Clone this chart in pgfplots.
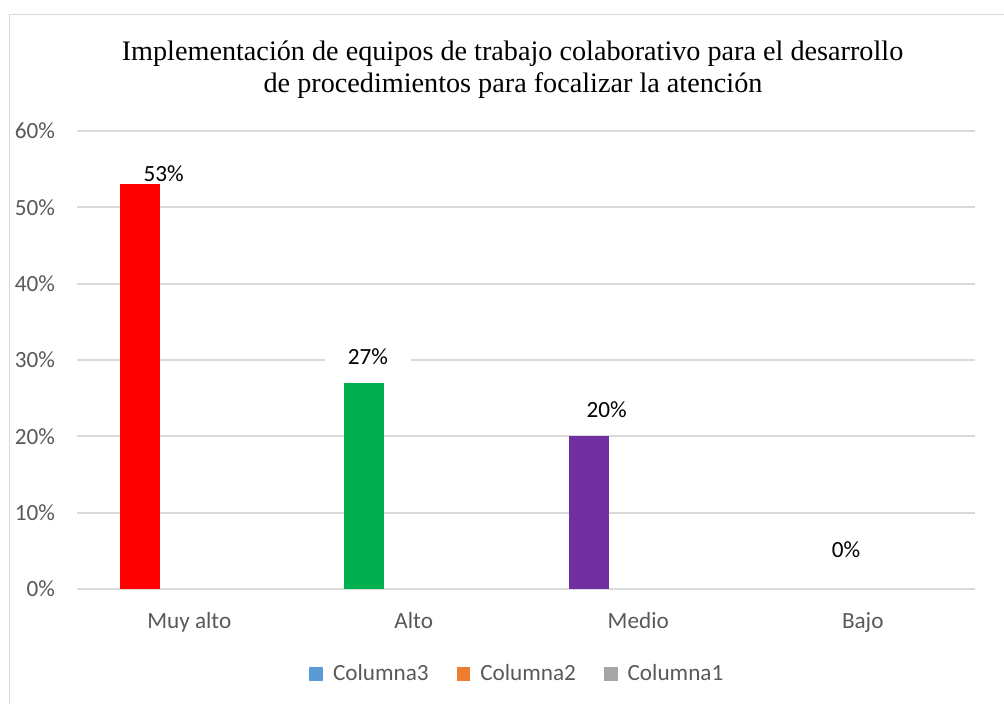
\documentclass[border=0pt]{standalone}
\usepackage{fontspec}
\setmainfont{Carlito}
\newfontfamily\titlefont{Liberation Serif}
\usepackage{pgfplots}
\pgfplotsset{compat=1.18}

\definecolor{gridgray}{HTML}{D9D9D9}
\definecolor{ticktext}{HTML}{595959}
\definecolor{barred}{HTML}{FF0000}
\definecolor{bargreen}{HTML}{00B050}
\definecolor{barpurple}{HTML}{7030A0}
\definecolor{colthree}{HTML}{5B9BD5}
\definecolor{coltwo}{HTML}{ED7D31}
\definecolor{colone}{HTML}{A5A5A5}

\begin{document}
\begin{tikzpicture}[x=1pt,y=1pt]
% chart frame (runs past the right and bottom edges of the picture)
\draw[gridgray, line width=0.8pt] (4.75,-20) rectangle (520,344.75);

% title
\node[font=\titlefont\fontsize{14.1}{16}\selectfont, anchor=base] at (256.25,321.5)
  {Implementación de equipos de trabajo colaborativo para el desarrollo};
\node[font=\titlefont\fontsize{14.1}{16}\selectfont, anchor=base] at (256.5,305.5)
  {de procedimientos para focalizar la atención};

\begin{axis}[
    at={(38.5pt,57.5pt)}, anchor=south west,
    scale only axis,
    width=449pt, height=229pt,
    xmin=-0.5, xmax=3.5,
    ymin=0, ymax=60,
    clip=false,
    axis line style={draw=none},
    major tick length=0pt,
    ytick={0,10,20,30,40,50,60},
    yticklabel={\pgfmathprintnumber{\tick}\%},
    xtick={0,1,2,3},
    xticklabels={Muy alto,Alto,Medio,Bajo},
    ymajorgrids,
    grid style={gridgray, line width=0.9pt},
    tick label style={font=\fontsize{11.6}{13}\selectfont, text=ticktext},
    /pgf/number format/assume math mode=true,
    yticklabel style={xshift=-7.5pt},
    xticklabel style={yshift=-8pt},
    legend style={
        at={(0.4915,-0.1856)}, anchor=center,
        draw=none, fill=none,
        legend columns=3,
        font=\fontsize{11.6}{13}\selectfont,
        text=ticktext,
        /tikz/every odd column/.append style={column sep=3pt},
        /tikz/every even column/.append style={column sep=12pt},
    },
    legend image code/.code={\fill[#1, draw=none] (0pt,-3.4pt) rectangle (6.8pt,3.4pt);},
]
    % Columna3, coloured by category (Bajo = 0)
    \addplot[ybar, bar width=20pt, bar shift=-24.75pt, fill=barred, draw=none, forget plot]
        coordinates {(0,53)};
    \addplot[ybar, bar width=20pt, bar shift=-24.75pt, fill=bargreen, draw=none, forget plot]
        coordinates {(1,27)};
    \addplot[ybar, bar width=20pt, bar shift=-24.75pt, fill=barpurple, draw=none, forget plot]
        coordinates {(2,20)};

    \addlegendimage{fill=colthree, draw=none}
    \addlegendentry{Columna3}
    \addlegendimage{fill=coltwo, draw=none}
    \addlegendentry{Columna2}
    \addlegendimage{fill=colone, draw=none}
    \addlegendentry{Columna1}

    % data labels
    \node[font=\fontsize{11.6}{13}\selectfont] at (axis cs:-0.114,54.4) {53\%};
    \node[font=\fontsize{11.6}{13}\selectfont, fill=white, inner xsep=11.5pt, inner ysep=1pt] at (axis cs:0.796,30.4) {27\%};
    \node[font=\fontsize{11.6}{13}\selectfont] at (axis cs:1.859,23.45) {20\%};
    \node[font=\fontsize{11.6}{13}\selectfont] at (axis cs:2.925,5.1) {0\%};
\end{axis}

% the page is the visible part of the chart area
\pgfresetboundingbox
\useasboundingbox (0,0) rectangle (502,352);
\end{tikzpicture}
\end{document}
